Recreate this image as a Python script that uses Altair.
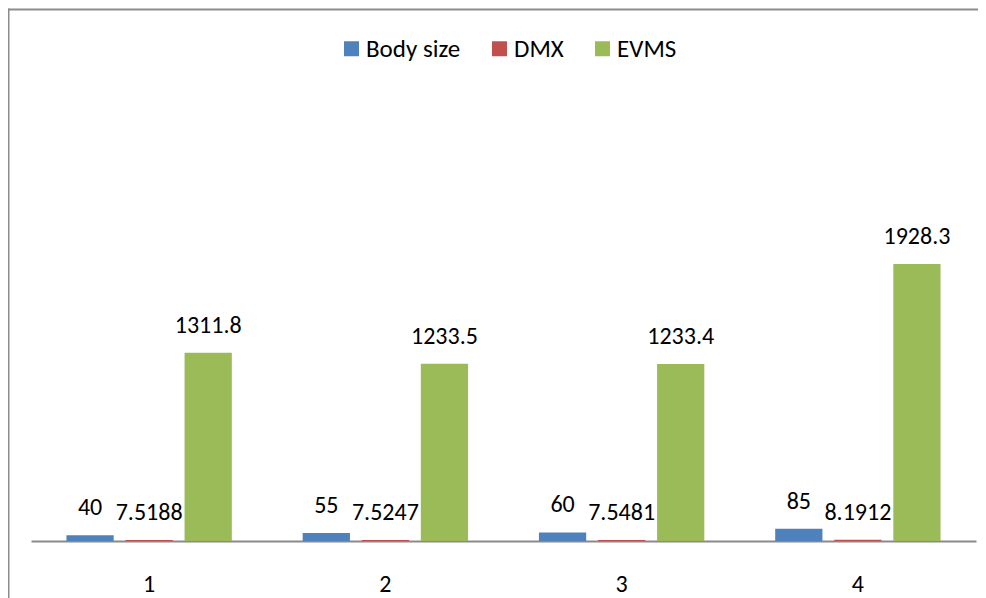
import altair as alt
import pandas as pd

categories = ["1", "2", "3", "4"]
series = ["Body size", "DMX", "EVMS"]
body_size = [40, 55, 60, 85]
dmx = [7.5188, 7.5247, 7.5481, 8.1912]
evms = [1311.8, 1233.5, 1233.4, 1928.3]
colors = ["#4F81BD", "#C0504D", "#9BBB59"]
labels = [["40", "55", "60", "85"],
          ["7.5188", "7.5247", "7.5481", "8.1912"],
          ["1311.8", "1233.5", "1233.4", "1928.3"]]

FONT = "Carlito, Lato, sans-serif"

rows = []
for s, vals, labs in zip(series, [body_size, dmx, evms], labels):
    for c, v, l in zip(categories, vals, labs):
        rows.append({"cat": c, "series": s, "value": v, "label": l})
df = pd.DataFrame(rows)

x = alt.X("cat:N", scale=alt.Scale(domain=categories, paddingInner=0.3, paddingOuter=0.15),
          axis=alt.Axis(title=None, labelAngle=0, ticks=False, domainColor="#8a8a8a",
                        domainWidth=2, labelFontSize=24, labelFont=FONT, labelColor="#000000",
                        labelPadding=31))
xo = alt.XOffset("series:N", scale=alt.Scale(domain=series, paddingInner=0.2, paddingOuter=0))
y = alt.Y("value:Q", scale=alt.Scale(domain=[0, 2500], nice=False), axis=None)

base = alt.Chart(df)

bars = base.mark_bar().encode(
    x=x, xOffset=xo, y=y,
    color=alt.Color("series:N", scale=alt.Scale(domain=series, range=colors),
                    legend=alt.Legend(orient="none", legendX=308, legendY=-146,
                                      direction="horizontal", title=None,
                                      symbolType="square", symbolSize=225,
                                      symbolStrokeWidth=0, labelFontSize=25,
                                      labelFont=FONT, labelColor="#000000",
                                      columnPadding=26, labelOffset=2)),
)

texts = base.mark_text(baseline="alphabetic", dy=-20, fontSize=24, font=FONT,
                       color="#000000").encode(
    x=x, xOffset=xo, y=y, text="label:N"
)

frame = alt.Chart(pd.DataFrame({"a": [0]}))
border_left = frame.mark_rule(stroke="#8c8c8c", strokeWidth=2).encode(
    x=alt.value(-22.5), y=alt.value(-173.5), y2=alt.value(700)
)
border_top = frame.mark_rule(stroke="#8c8c8c", strokeWidth=2).encode(
    x=alt.value(-23.5), x2=alt.value(1000), y=alt.value(-172.5)
)

chart = alt.layer(border_left, border_top, bars, texts).properties(
    width=945, height=359,
    autosize=alt.AutoSizeParams(type="none"),
    padding={"left": 23, "top": 174, "right": 2, "bottom": 58},
).configure_view(strokeWidth=0)

chart.save("out.html", embed_options={"renderer": "svg", "actions": False})
